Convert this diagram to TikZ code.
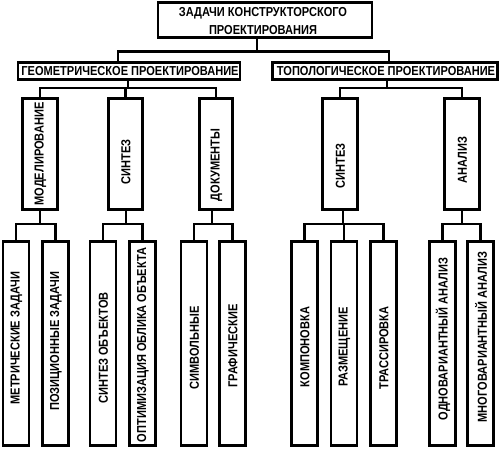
\documentclass[tikz,border=0pt]{standalone}
\usepackage{fontspec}
\setmainfont{Liberation Sans}
\usepackage{graphicx}
\newcommand{\nar}[1]{\scalebox{0.85}[1]{#1}}
\begin{document}
\begin{tikzpicture}[x=1pt,y=-1pt,
  every node/.style={font=\fontsize{13}{17.3}\selectfont\bfseries},
  box/.style={draw=black,line width=2.7pt,inner sep=0pt,fill=white},
  vtext/.style={rotate=90,inner sep=0pt},
  link/.style={line width=2.7pt,line cap=rect}]
\useasboundingbox (0,0) rectangle (500,448);
% top and level 1
\node[box,minimum width=214pt,minimum height=35.6pt] (top) at (265,20) {};
\node[inner sep=0pt,align=center] (topt) at (263,21) {\nar{ЗАДАЧИ КОНСТРУКТОРСКОГО}\\\nar{ПРОЕКТИРОВАНИЯ}};
\node[box,minimum width=222pt,minimum height=17pt] (geo) at (129,71) {};
\node[inner sep=0pt] (geot) at (130,71.5) {\nar{ГЕОМЕТРИЧЕСКОЕ ПРОЕКТИРОВАНИЕ}};
\node[box,minimum width=225.6pt,minimum height=17pt] (topo) at (385,71) {};
\node[inner sep=0pt] (topot) at (386,71.5) {\nar{ТОПОЛОГИЧЕСКОЕ ПРОЕКТИРОВАНИЕ}};
% level 2
\node[box,minimum width=35.6pt,minimum height=111.6pt] (mod) at (40,154) {};
\node[vtext] (modt) at (40.5,154) {\nar{МОДЕЛИРОВАНИЕ}};
\node[box,minimum width=34.6pt,minimum height=111.6pt] (sin) at (125.5,154) {};
\node[vtext] (sint) at (126,162) {\nar{СИНТЕЗ}};
\node[box,minimum width=33.6pt,minimum height=111.6pt] (doc) at (216,154) {};
\node[vtext] (doct) at (216.5,165) {\nar{ДОКУМЕНТЫ}};
\node[box,minimum width=35.6pt,minimum height=111.6pt] (tsin) at (340,154) {};
\node[vtext] (tsint) at (340.5,166) {\nar{СИНТЕЗ}};
\node[box,minimum width=35.6pt,minimum height=111.6pt] (ana) at (462,154) {};
\node[vtext] (anat) at (462.5,160) {\nar{АНАЛИЗ}};
% level 3
\tikzset{leaf/.style={box,minimum height=204.6pt,minimum width=#1}}
\node[leaf=26pt] (met) at (16,343.5) {};
\node[vtext] (mett) at (16.5,338) {\nar{МЕТРИЧЕСКИЕ ЗАДАЧИ}};
\node[leaf=26.6pt] (poz) at (55.5,343.5) {};
\node[vtext] (pozt) at (56,341) {\nar{ПОЗИЦИОННЫЕ ЗАДАЧИ}};
\node[leaf=26pt] (sob) at (103,343.5) {};
\node[vtext] (sobt) at (103.5,348) {\nar{СИНТЕЗ ОБЪЕКТОВ}};
\node[leaf=26.6pt] (opt) at (142.5,343.5) {};
\node[vtext] (optt) at (143,345) {\nar{ОПТИМИЗАЦИЯ ОБЛИКА ОБЪЕКТА}};
\node[leaf=26pt] (sim) at (194,343.5) {};
\node[vtext] (simt) at (194.5,348) {\nar{СИМВОЛЬНЫЕ}};
\node[leaf=26.6pt] (gra) at (232.5,343.5) {};
\node[vtext] (grat) at (233,346) {\nar{ГРАФИЧЕСКИЕ}};
\node[leaf=26.6pt] (kom) at (304.5,343.5) {};
\node[vtext] (komt) at (305,347) {\nar{КОМПОНОВКА}};
\node[leaf=26pt] (raz) at (344,343.5) {};
\node[vtext] (razt) at (344.5,347) {\nar{РАЗМЕЩЕНИЕ}};
\node[leaf=26.6pt] (tra) at (383.5,343.5) {};
\node[vtext] (trat) at (384,348) {\nar{ТРАССИРОВКА}};
\node[leaf=26.6pt] (odn) at (442.5,343.5) {};
\node[vtext] (odnt) at (443,339) {\nar{ОДНОВАРИАНТНЫЙ АНАЛИЗ}};
\node[leaf=26.6pt] (mno) at (480.5,343.5) {};
\node[vtext] (mnot) at (481,337) {\nar{МНОГОВАРИАНТНЫЙ АНАЛИЗ}};
% bus coordinates
\coordinate (b0l) at (118,51.5);
\coordinate (b0r) at (389,51.5);
\coordinate (b0t) at (257,51.5);
\coordinate (bg) at (128,88);
\coordinate (bt) at (387,88);
% connectors level 0-1
\draw[link] (b0t |- top.south) -- (b0t);
\draw[link] (b0l) -- (b0r);
\draw[link] (b0l) -- (b0l |- geo.north);
\draw[link] (b0r) -- (b0r |- topo.north);
% level 1-2
\draw[link] (bg |- geo.south) -- (bg);
\draw[link] (mod.north |- bg) -- (doc.north |- bg);
\draw[link] (mod.north |- bg) -- (mod.north);
\draw[link] (sin.north |- bg) -- (sin.north);
\draw[link] (doc.north |- bg) -- (doc.north);
\draw[link] (bt |- topo.south) -- (bt);
\draw[link] (tsin.north |- bt) -- (ana.north |- bt);
\draw[link] (tsin.north |- bt) -- (tsin.north);
\draw[link] (ana.north |- bt) -- (ana.north);
% level 2-3
\foreach \p/\a/\b/\x in {mod/met/poz/40, sin/sob/opt/126, doc/sim/gra/212, tsin/kom/tra/343, ana/odn/mno/462}{
  \coordinate (j\p) at (\x,224);
  \draw[link] (j\p |- \p.south) -- (j\p);
  \draw[link] (\a.north |- j\p) -- (\b.north |- j\p);
  \draw[link] (\a.north |- j\p) -- (\a.north);
  \draw[link] (\b.north |- j\p) -- (\b.north);
}
\draw[link] (raz.north |- jtsin) -- (raz.north);
\end{tikzpicture}
\end{document}
